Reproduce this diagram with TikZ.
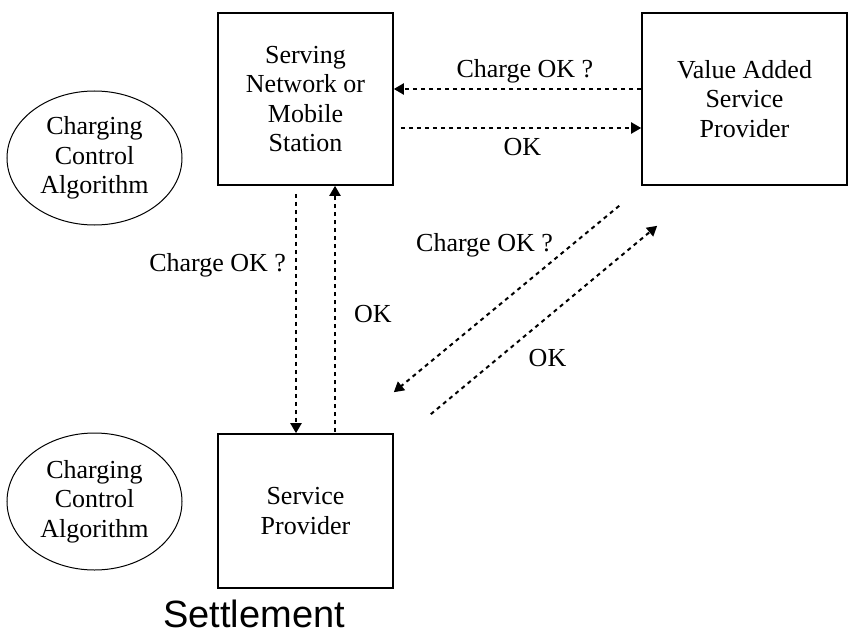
\documentclass[tikz,border=0pt]{standalone}
\usepackage{fontspec}
\setmainfont{Liberation Serif}
\setsansfont{Liberation Sans}
\usetikzlibrary{arrows.meta,shapes.geometric}
\tikzset{
  block/.style={draw, line width=1.6bp, inner sep=0pt, align=center},
  algo/.style={draw, ellipse, line width=1bp, inner sep=0pt, minimum width=175bp, align=center},
  msg/.style={line width=2bp, dash pattern=on 4bp off 4bp, -{Triangle[length=10bp,width=11bp]}},
  lbl/.style={inner sep=0pt}
}
\begin{document}
\begin{tikzpicture}[x=1bp, y=-1bp, font=\fontsize{26bp}{29.5bp}\selectfont]
\useasboundingbox (0,0) rectangle (848,640);
\node [block, minimum width=175bp, minimum height=172bp] (sn) at (305.5,99) {Serving\\Network or\\Mobile\\Station};
\node [block, minimum width=205bp, minimum height=172bp] (vasp) at (744.5,99) {Value Added\\Service\\Provider};
\node [block, minimum width=175bp, minimum height=154bp] (sp) at (305.5,511) {Service\\Provider};
\node [algo, minimum height=134bp] (cca1) at (94.5,158) {Charging\\Control\\Algorithm};
\node [algo, minimum height=137bp] (cca2) at (94.5,501.5) {Charging\\Control\\Algorithm};
\node [anchor=base west, inner sep=0pt, font=\sffamily\fontsize{38bp}{42bp}\selectfont] (settle) at (163,627) {Settlement};
\draw [msg] ([yshift=10bp]vasp.west) -- node [lbl, above=5bp, pos=0.47] {Charge OK ?} ([yshift=10bp]sn.east);
\draw [msg, shorten <=7bp] ([yshift=-29bp]sn.east) -- node [lbl, below=9bp, pos=0.52] {OK} ([yshift=-29bp]vasp.west);
\draw [msg, shorten <=8bp] ([xshift=-9.5bp]sn.south) -- node [lbl, left=9bp, pos=0.32] {Charge OK ?} ([xshift=-9.5bp]sp.north);
\draw [msg, shorten <=1bp] ([xshift=29.5bp]sp.north) -- node [lbl, right=18bp, pos=0.48] {OK} ([xshift=29.5bp]sn.south);
\coordinate (d1) at ([shift={(-22,20)}]vasp.south west);
\coordinate (d2) at ([shift={(16,40)}]vasp.south west);
\coordinate (d3) at ([shift={(0,-41)}]sp.north east);
\coordinate (d4) at ([shift={(37,-19)}]sp.north east);
\draw [msg] (d1) -- node [lbl, left=18bp, pos=0.21] {Charge OK ?} (d3);
\draw [msg] (d4) -- node [lbl, right=29bp, pos=0.3] {OK} (d2);
\end{tikzpicture}
\end{document}
